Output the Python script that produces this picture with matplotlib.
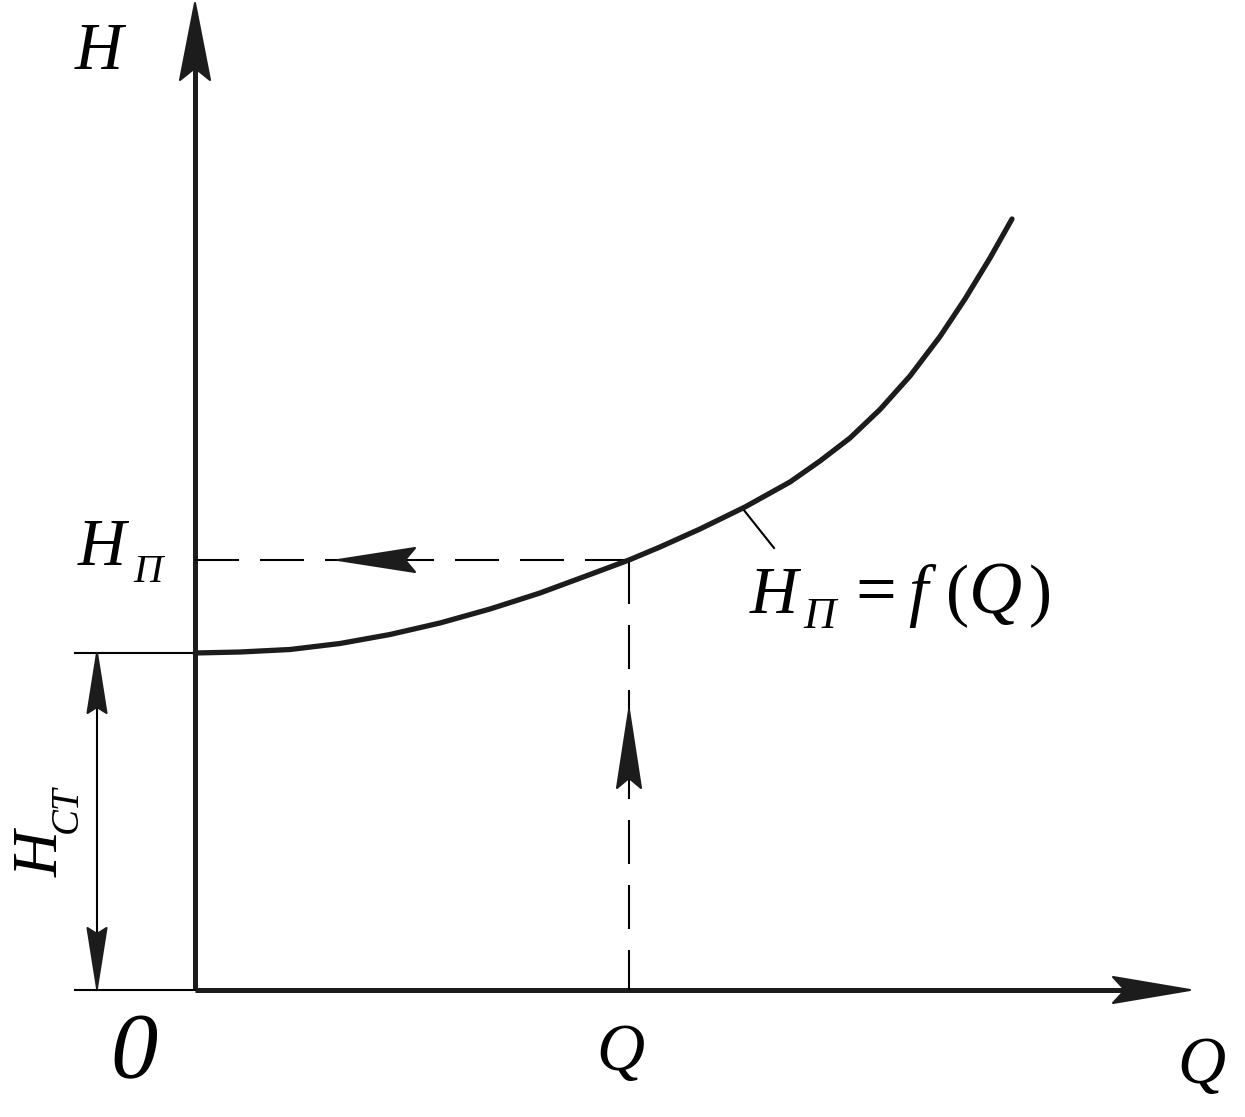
import matplotlib
matplotlib.use("Agg")
import matplotlib.pyplot as plt
from matplotlib.patches import Polygon

# =========================
# DATA (units: pixels from the origin)
# =========================

Q_curve = [0, 45, 95, 145, 195, 245, 295, 345, 395, 434, 465, 505, 550,
           595, 625, 655, 685, 715, 745, 770, 795, 817]
H_curve = [337, 338, 340.5, 346.5, 355.5, 367, 381, 397, 415.5, 430, 443, 461, 483,
           508, 529, 552, 580.5, 614, 653.5, 691, 732, 771]

Q_op = 434      # working point flow
H_op = 430      # working point head
H_st = 337      # static head

Q_max = 995     # x axis arrow tip
H_max = 987     # y axis arrow tip

INK = "#1c1c1c"
FONT = "Liberation Serif"

plt.rcParams["lines.scale_dashes"] = False


def arrowhead(ax, tip, direction, length, half_w, notch):
    tx, ty = tip
    dx, dy = direction
    px, py = -dy, dx
    bx, by = tx - length * dx, ty - length * dy
    pts = [
        (tx, ty),
        (bx + half_w * px, by + half_w * py),
        (tx - (length - notch) * dx, ty - (length - notch) * dy),
        (bx - half_w * px, by - half_w * py),
    ]
    ax.add_patch(Polygon(pts, closed=True, facecolor=INK, edgecolor=INK,
                         lw=1.5, joinstyle="round", zorder=5))


fig = plt.figure(figsize=(12.45, 11.17), dpi=100)
ax = fig.add_axes([0, 0, 1, 1])
ax.set_xlim(-195, 1050)
ax.set_ylim(-127, 990)
ax.axis("off")

# =========================
# AXES
# =========================

ax.plot([0, 0], [0, H_max - 40], color=INK, lw=3.6, solid_capstyle="butt")
ax.plot([0, Q_max - 40], [0, 0], color=INK, lw=3.6, solid_capstyle="butt")
arrowhead(ax, (0, H_max), (0, 1), 77, 15, 12)
arrowhead(ax, (Q_max, 0), (1, 0), 77, 13, 12)

# =========================
# CURVE
# =========================

ax.plot(Q_curve, H_curve, color=INK, lw=3.8, solid_capstyle="round",
        solid_joinstyle="round", zorder=4)

# working point dashed lines
ax.plot([0, Q_op], [H_op, H_op], color="black", lw=1.5, dashes=(31.7, 15.1))
ax.plot([Q_op, Q_op], [H_op, 0], color="black", lw=1.5, dashes=(31.7, 15.1))
arrowhead(ax, (143, H_op), (-1, 0), 77, 12, 10)
arrowhead(ax, (Q_op, 280), (0, 1), 78, 12, 10)

# leader line
ax.plot([548, 579], [481, 442], color="black", lw=1.5)

# =========================
# STATIC HEAD DIMENSION
# =========================

ax.plot([-120, 0], [H_st, H_st], color="black", lw=1.5)
ax.plot([-120, 0], [0, 0], color="black", lw=1.5)
ax.plot([-98, -98], [0, H_st], color="black", lw=1.5)
arrowhead(ax, (-98, H_st), (0, 1), 60, 9.5, 6)
arrowhead(ax, (-98, 2), (0, -1), 60, 9.5, 6)

# =========================
# TEXT
# =========================

it = dict(family=FONT, style="italic", color="black", ha="left", va="baseline")
rm = dict(family=FONT, color="black", ha="left", va="baseline")

ax.text(-120, 921, "H", fontsize=48, **it)

ax.text(-117, 425, "H", fontsize=48, **it)
ax.text(-62, 408, "П", fontsize=29, **it)

ax.text(555, 377, "H", fontsize=48, **it)
ax.text(608, 362, "П", fontsize=32, **it)
ax.text(660, 377, "=", fontsize=52, **rm)
ax.text(713, 377, "f", fontsize=50, **it)
ax.text(751, 377, "(", fontsize=50, **rm)
ax.text(774, 377, "Q", fontsize=53, **it)
ax.text(834, 377, ")", fontsize=50, **rm)

ax.text(-85, -87, "0", fontsize=68, **it)
ax.text(425, -80, "Q", fontsize=48, family=FONT, style="italic",
        ha="center", va="baseline")
ax.text(982, -93, "Q", fontsize=48, **it)

ax.text(-137, 113, "H", fontsize=46, rotation=90, rotation_mode="anchor", **it)
ax.text(-118, 157, "CT", fontsize=28, rotation=90, rotation_mode="anchor", **it)

fig.savefig("out.png", dpi=100, facecolor="white")
